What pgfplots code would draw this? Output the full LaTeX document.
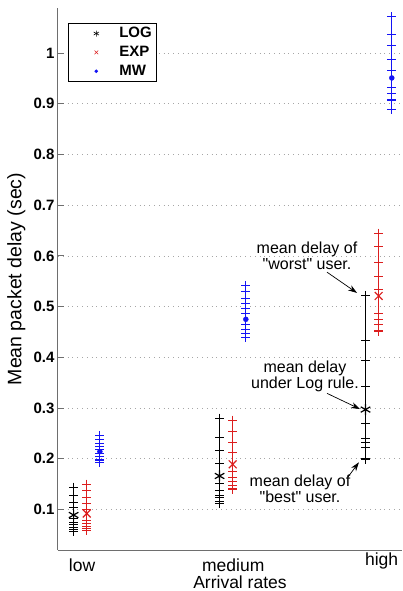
\documentclass[border=0pt]{standalone}
\usepackage{pgfplots}
\pgfplotsset{compat=1.18}
\usepackage{fontspec}
\setmainfont{Liberation Sans}
\usetikzlibrary{arrows.meta}
\definecolor{expred}{RGB}{220,30,30}
\definecolor{mwblue}{RGB}{20,20,245}
\definecolor{axgray}{RGB}{110,110,110}

\begin{document}
\begin{tikzpicture}
\begin{axis}[
  scale only axis, width=344pt, height=542pt,
  xmin=0.803, xmax=3.16, ymin=0.02, ymax=1.089,
  axis x line*=bottom, axis y line*=left,
  axis line style={axgray, line width=1pt},
  xtick={0.968,2.004,3.02},
  xticklabels={low,medium,\raisebox{6pt}{high}},
  xtick style={draw=none},
  xticklabel style={font=\fontsize{17.5}{21}\selectfont, inner ysep=0.5pt,
    text height=21pt, text depth=0pt},
  ytick={0.1,0.2,0.3,0.4,0.5,0.6,0.7,0.8,0.9,1},
  yticklabel style={font=\fontsize{15}{18}\selectfont\bfseries},
  /pgf/number format/assume math mode=true,
  ytick style={axgray, line width=0.9pt},
  major tick length=6pt, tick align=inside,
  ymajorgrids, grid style={gray!70, line width=0.8pt, dash pattern=on 0.8pt off 4pt},
  xlabel={Arrival rates}, ylabel={Mean packet delay (sec)},
  xlabel style={font=\fontsize{17.5}{21}\selectfont, inner sep=0.5pt,
    at={(axis description cs:0.529,-0.0595)}, anchor=center},
  ylabel style={font=\fontsize{19.5}{22}\selectfont, at={(axis description cs:-0.121,0.5)}, anchor=center},
  legend style={at={(axis description cs:0.029,0.972)}, anchor=north west,
    draw=black, line width=0.7pt, font=\fontsize{15}{17}\selectfont\bfseries,
    row sep=3pt, cells={anchor=west}},
  legend image code/.code={\path[draw=none, fill=none] (0pt,-3pt) rectangle (46pt,3pt);
    \draw[#1] plot coordinates {(25pt,0pt)};},
  users/.style={line width=0.9pt, mark=+, mark size=4.5pt, forget plot},
]
\addlegendimage{black, mark=asterisk, mark size=3pt, line width=0.6pt}
\addlegendentry{LOG}
\addlegendimage{expred, mark=x, mark size=2.6pt, line width=0.6pt}
\addlegendentry{EXP}
\addlegendimage{mwblue, mark=*, mark size=1.4pt}
\addlegendentry{MW}

% low
\addplot[users, black] coordinates {(0.91,0.144)(0.91,0.128)(0.91,0.114)(0.91,0.103)(0.91,0.082)(0.91,0.075)(0.91,0.070)(0.91,0.065)(0.91,0.060)(0.91,0.057)};
\addplot[users, expred] coordinates {(1.0,0.150)(1.0,0.137)(1.0,0.124)(1.0,0.112)(1.0,0.100)(1.0,0.079)(1.0,0.073)(1.0,0.067)(1.0,0.062)(1.0,0.058)};
\addplot[users, mwblue] coordinates {(1.09,0.245)(1.09,0.238)(1.09,0.231)(1.09,0.224)(1.09,0.218)(1.09,0.211)(1.09,0.205)(1.09,0.199)(1.09,0.196)(1.09,0.193)};
% medium
\addplot[users, black] coordinates {(1.91,0.280)(1.91,0.241)(1.91,0.216)(1.91,0.190)(1.91,0.152)(1.91,0.138)(1.91,0.128)(1.91,0.124)(1.91,0.115)(1.91,0.112)};
\addplot[users, expred] coordinates {(2.0,0.276)(2.0,0.254)(2.0,0.232)(2.0,0.212)(2.0,0.174)(2.0,0.163)(2.0,0.155)(2.0,0.147)(2.0,0.141)(2.0,0.139)};
\addplot[users, mwblue] coordinates {(2.09,0.542)(2.09,0.529)(2.09,0.517)(2.09,0.506)(2.09,0.496)(2.09,0.486)(2.09,0.465)(2.09,0.455)(2.09,0.448)(2.09,0.440)};
% high
\addplot[users, black] coordinates {(2.91,0.522)(2.91,0.434)(2.91,0.394)(2.91,0.342)(2.91,0.270)(2.91,0.240)(2.91,0.232)(2.91,0.222)(2.91,0.201)(2.91,0.199)};
\addplot[users, expred] coordinates {(3.0,0.645)(3.0,0.618)(3.0,0.588)(3.0,0.559)(3.0,0.534)(3.0,0.487)(3.0,0.475)(3.0,0.464)(3.0,0.453)(3.0,0.451)};
\addplot[users, mwblue] coordinates {(3.09,1.072)(3.09,1.037)(3.09,1.016)(3.09,0.988)(3.09,0.965)(3.09,0.932)(3.09,0.920)(3.09,0.909)(3.09,0.907)(3.09,0.889)};

% means
\addplot[only marks, black, mark=asterisk, mark size=5.5pt, line width=1.2pt, forget plot]
  coordinates {(0.91,0.089)(1.91,0.166)(2.91,0.297)};
\addplot[only marks, expred, mark=x, mark size=5.5pt, line width=1.2pt, forget plot]
  coordinates {(1.0,0.092)(2.0,0.189)(3.0,0.521)};
\addplot[only marks, mwblue, mark=*, mark size=2.5pt, forget plot]
  coordinates {(1.09,0.214)(2.09,0.475)(3.09,0.951)};

% annotations
\begin{scope}[every node/.style={align=center, inner sep=0pt,
    font=\fontsize{16}{13.5}\selectfont}]
\node at (axis cs:2.509,0.600) {mean delay of\\\textquotedbl worst\textquotedbl{} user.};
\node at (axis cs:2.495,0.362) {mean delay\\under Log rule.};
\node at (axis cs:2.461,0.141) {mean delay of\\\textquotedbl best\textquotedbl{} user.};
\end{scope}
\draw[-{Stealth[length=9pt,width=6pt]}, line width=0.7pt]
  (axis cs:2.646,0.568) -- (axis cs:2.852,0.527);
\draw[-{Stealth[length=9pt,width=6pt]}, line width=0.7pt]
  (axis cs:2.646,0.329) -- (axis cs:2.872,0.298);
\draw[-{Stealth[length=9pt,width=6pt]}, line width=0.7pt]
  (axis cs:2.790,0.164) -- (axis cs:2.865,0.193);

\coordinate (bl) at (rel axis cs:0,0);
\coordinate (tr) at (rel axis cs:1,1);
\end{axis}
\pgfresetboundingbox
\path[use as bounding box] ([xshift=-58pt,yshift=-41pt]bl) rectangle ([yshift=8pt]tr);
\end{tikzpicture}
\end{document}
